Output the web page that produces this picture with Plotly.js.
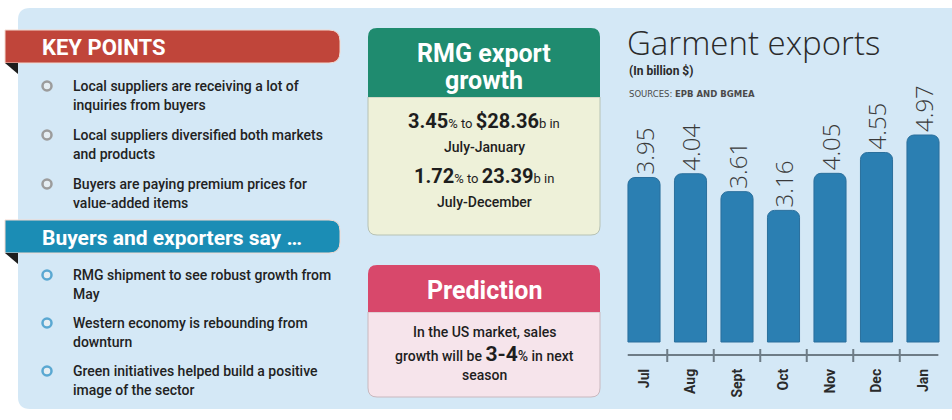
<!DOCTYPE html>
<html>
<head>
<meta charset="utf-8">
<script src="https://cdn.plot.ly/plotly-3.0.1.min.js"></script>
<style>
  body { margin: 0; background: #ffffff; }
  #chart { width: 952px; height: 420px; }
</style>
</head>
<body>
<div id="chart"></div>
<script>
// chart data
const months = ["Jul", "Aug", "Sept", "Oct", "Nov", "Dec", "Jan"];
const exportsBn = [3.95, 4.04, 3.61, 3.16, 4.05, 4.55, 4.97];

// texts of the side panels
const keyPoints = [
    ["Local suppliers are receiving a lot of", "inquiries from buyers"],
    ["Local suppliers diversified both markets", "and products"],
    ["Buyers are paying premium prices for", "value-added items"]
];
const buyersSay = [
    ["RMG shipment to see robust growth from", "May"],
    ["Western economy is rebounding from", "downturn"],
    ["Green initiatives helped build a positive", "image of the sector"]
];

const W = 952, H = 420;
// pixel -> paper
const X = p => p / W;
const Y = p => 1 - p / H;

const COND = 'Roboto, "Liberation Sans", sans-serif';
const THIN = '"Open Sans", "Lato", sans-serif';

// rounded rectangle path, radii = [topleft, topright, bottomright, bottomleft]
function rr(x0, y0, x1, y1, rad) {
    let [a, b, c, d] = rad;
    return "M" + X(x0 + a) + "," + Y(y0) +
        " L" + X(x1 - b) + "," + Y(y0) +
        " Q" + X(x1) + "," + Y(y0) + " " + X(x1) + "," + Y(y0 + b) +
        " L" + X(x1) + "," + Y(y1 - c) +
        " Q" + X(x1) + "," + Y(y1) + " " + X(x1 - c) + "," + Y(y1) +
        " L" + X(x0 + d) + "," + Y(y1) +
        " Q" + X(x0) + "," + Y(y1) + " " + X(x0) + "," + Y(y1 - d) +
        " L" + X(x0) + "," + Y(y0 + a) +
        " Q" + X(x0) + "," + Y(y0) + " " + X(x0 + a) + "," + Y(y0) + " Z";
}

function pathShape(path, fill, line, lw) {
    return {type: "path", xref: "paper", yref: "paper", path: path, layer: "below",
        fillcolor: fill, line: {color: line || fill, width: lw || 0}};
}

function txt(x, y, text, size, color, family, anchor, weight) {
    let f = {size: size, color: color, family: family};
    if (weight) f.weight = weight;
    return {xref: "paper", yref: "paper", x: X(x), y: Y(y), text: text, showarrow: false,
        xanchor: anchor || "left", yanchor: "middle", font: f};
}

let shapes = [];
let annotations = [];

// big light blue panel
shapes.push(pathShape(rr(18, 8, 970, 409, [12, 12, 12, 12]), "#d4e8f6"));

// ribbons
function ribbon(y0, y1, color, label, size) {
    shapes.push(pathShape(rr(5, y0, 340, y1, [0, 11, 11, 0]), color, "#f3d9cf", 1));
    shapes.push(pathShape("M" + X(5) + "," + Y(y1) + " L" + X(18) + "," + Y(y1) + " L" + X(18) + "," + Y(y1 + 11) + " Z", "#1d1d1d"));
    annotations.push(txt(40, (y0 + y1) / 2 + 1, "<b>" + label + "</b>", size, "#ffffff", COND));
}
ribbon(30, 63, "#c0453a", "KEY POINTS", 22);
ribbon(220, 253, "#1b8db5", "Buyers and exporters say …", 21);

function bullets(list, ys, ringColor) {
    list.forEach((lines, i) => {
        let y = ys[i];
        shapes.push({type: "circle", xref: "paper", yref: "paper", layer: "below",
            x0: X(42.5), x1: X(51.5), y0: Y(y - 4.5), y1: Y(y + 4.5),
            fillcolor: "#e6eef3", line: {color: ringColor, width: 2.5}});
        lines.forEach((t, j) => {
            annotations.push(txt(71, y + j * 18.5, t, 14, "#222222", COND, "left", 500));
        });
    });
}
bullets(keyPoints, [86, 135, 184], "#9c9c9c");
bullets(buyersSay, [275, 323, 371], "#5aa8d2");

// green box
shapes.push(pathShape(rr(368, 97, 600, 235, [0, 0, 9, 9]), "#eef1d9", "#b7c2b4", 1));
shapes.push(pathShape(rr(368, 28, 600, 97, [9, 9, 0, 0]), "#1f8b6f"));
annotations.push(txt(484, 53, "<b>RMG export</b>", 25, "#ffffff", COND, "center"));
annotations.push(txt(484, 81, "<b>growth</b>", 25, "#ffffff", COND, "center"));
annotations.push(txt(484, 121, "<b>3.45</b><span style='font-size:13px'>% to </span><b>$28.36</b><span style='font-size:13px'>b in</span>", 20, "#1e1e1e", COND, "center"));
annotations.push(txt(484, 147, "July-January", 14, "#1e1e1e", COND, "center", 500));
annotations.push(txt(484, 176, "<b>1.72</b><span style='font-size:13px'>% to </span><b>23.39</b><span style='font-size:13px'>b in</span>", 20, "#1e1e1e", COND, "center"));
annotations.push(txt(484, 202, "July-December", 14, "#1e1e1e", COND, "center", 500));

// pink box
shapes.push(pathShape(rr(368, 312, 600, 397, [0, 0, 9, 9]), "#f6e4eb", "#c9b8be", 1));
shapes.push(pathShape(rr(368, 265, 600, 312, [9, 9, 0, 0]), "#d8486b"));
annotations.push(txt(484, 290, "<b>Prediction</b>", 25, "#ffffff", COND, "center"));
annotations.push(txt(484, 332, "In the US market, sales", 14, "#1e1e1e", COND, "center", 500));
annotations.push(txt(484, 354, "growth will be <b><span style='font-size:21px'>3-4</span></b>% in next", 14, "#1e1e1e", COND, "center", 500));
annotations.push(txt(484, 375, "season", 14, "#1e1e1e", COND, "center", 500));

// chart titles
annotations.push(txt(625, 43, "Garment exports", 33, "#2a2a2a", THIN, "left", 300));
annotations.push(txt(627, 71, "<b>(In billion $)</b>", 12, "#2a2a2a", COND));
annotations.push(txt(627, 94, "SOURCES: <b>EPB AND BGMEA</b>", 8.5, "#4a4a4a", '"DejaVu Sans", sans-serif'));

// axis ticks between months, crossing the axis line
for (let i = 0; i < months.length - 1; i++) {
    shapes.push({type: "line", xref: "x", yref: "paper", x0: i + 0.5, x1: i + 0.5,
        y0: Y(349), y1: Y(362), line: {color: "#6e7c86", width: 2}});
}
shapes.push({type: "line", xref: "x", yref: "paper", x0: -0.35, x1: 6.33,
    y0: Y(355), y1: Y(355), line: {color: "#6e7c86", width: 2}});

let data = [{
    type: "bar",
    x: months,
    y: exportsBn,
    text: exportsBn.map(v => v.toFixed(2)),
    textposition: "outside",
    textangle: -90,
    constraintext: "none",
    cliponaxis: false,
    textfont: {family: THIN, size: 24, color: "#3a3a3a", weight: 300},
    marker: {color: "#2b7fb2", cornerradius: 7, line: {color: "#2a6f9c", width: 1}},
    hoverinfo: "none"
}];

let layout = {
    width: W,
    height: H,
    margin: {l: 0, r: 0, t: 0, b: 0},
    paper_bgcolor: "#ffffff",
    plot_bgcolor: "rgba(0,0,0,0)",
    showlegend: false,
    bargap: 0.31,
    xaxis: {
        domain: [X(620.75), X(946.25)],
        type: "category",
        showline: false,
        showgrid: false,
        zeroline: false,
        ticks: "",
        tickangle: -90,
        ticklabelstandoff: 10,
        tickfont: {family: COND, size: 14, color: "#2a2a2a", weight: "bold"},
        fixedrange: true
    },
    yaxis: {
        domain: [Y(355), Y(60)],
        range: [-0.312, 6.771],
        visible: false,
        fixedrange: true
    },
    shapes: shapes,
    annotations: annotations
};

Plotly.newPlot("chart", data, layout, {displayModeBar: false, staticPlot: true});
</script>
</body>
</html>
